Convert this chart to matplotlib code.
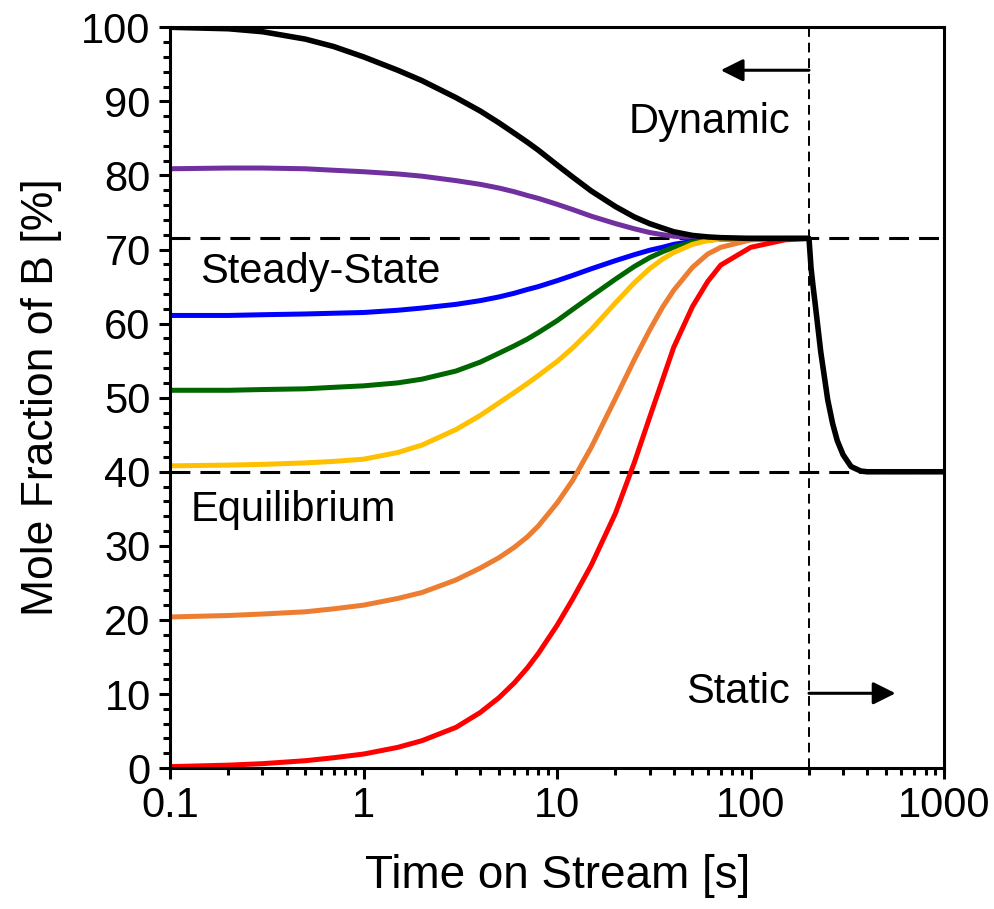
import matplotlib
matplotlib.use("Agg")
import matplotlib.pyplot as plt
from matplotlib.ticker import FixedLocator, FixedFormatter, LogLocator, MultipleLocator, NullFormatter

plt.rcParams["font.family"] = ["Liberation Sans", "DejaVu Sans"]

# Time grid for the dynamic (flow) part, seconds
time = [0.1, 0.2, 0.3, 0.5, 0.7, 1, 1.5, 2, 3, 4, 5, 6, 7, 8, 10, 12, 15, 20, 25, 30, 35, 40, 50, 60, 70, 100, 150, 200]

# Mole fraction of B [%] for each starting composition
b_100 = [100, 99.8, 99.4, 98.4, 97.4, 96.0, 94.2, 92.8, 90.5, 88.7, 87.1, 85.7, 84.5, 83.4, 81.4, 79.8, 77.9, 75.8, 74.4, 73.5, 72.9, 72.4, 71.9, 71.7, 71.6, 71.5, 71.5, 71.5]
b_81 = [80.9, 81.0, 81.0, 80.9, 80.7, 80.5, 80.2, 79.9, 79.3, 78.8, 78.3, 77.8, 77.3, 76.9, 76.1, 75.4, 74.5, 73.5, 72.8, 72.3, 72.0, 71.8, 71.6, 71.5, 71.5, 71.5, 71.5, 71.5]
b_61 = [61.1, 61.1, 61.2, 61.3, 61.4, 61.5, 61.8, 62.1, 62.6, 63.1, 63.6, 64.1, 64.6, 65.0, 65.8, 66.5, 67.4, 68.5, 69.3, 69.9, 70.3, 70.7, 71.1, 71.3, 71.4, 71.5, 71.5, 71.5]
b_51 = [51.0, 51.0, 51.1, 51.2, 51.4, 51.6, 52.0, 52.5, 53.6, 54.8, 56.0, 57.0, 57.9, 58.8, 60.4, 61.9, 63.7, 66.0, 67.7, 68.9, 69.7, 70.3, 71.0, 71.3, 71.4, 71.5, 71.5, 71.5]
b_41 = [40.8, 40.9, 41.0, 41.2, 41.4, 41.7, 42.6, 43.6, 45.7, 47.6, 49.3, 50.7, 51.9, 53.0, 54.9, 56.7, 59.2, 62.8, 65.5, 67.4, 68.7, 69.6, 70.7, 71.2, 71.4, 71.5, 71.5, 71.5]
b_20 = [20.4, 20.6, 20.8, 21.1, 21.5, 22.0, 22.9, 23.7, 25.4, 27.0, 28.4, 29.8, 31.2, 32.7, 35.8, 38.8, 43.3, 49.9, 55.1, 59.1, 62.2, 64.5, 67.6, 69.4, 70.3, 71.3, 71.5, 71.5]
b_0 = [0.2, 0.4, 0.6, 1.0, 1.4, 1.9, 2.8, 3.7, 5.5, 7.5, 9.5, 11.5, 13.5, 15.5, 19.3, 22.8, 27.4, 34.4, 41.2, 47.3, 52.4, 56.8, 62.3, 65.7, 67.9, 70.3, 71.3, 71.5]

# Static part after the flow is stopped at 200 s
time_static = [205, 210, 215, 230, 250, 265, 280, 300, 330, 370, 400, 500, 700, 1000]
b_static = [67.5, 65.0, 62.8, 56.2, 49.7, 46.5, 44.2, 42.3, 40.7, 40.1, 40.0, 40.0, 40.0, 40.0]

steady_state = 71.5
equilibrium = 40.0
t_stop = 200

colors = ["#7030A0", "#0000FF", "#006600", "#FFC000", "#ED7D31", "#FF0000"]
series = [b_81, b_61, b_51, b_41, b_20, b_0]

fig = plt.figure(figsize=(9.95, 9.09), dpi=100)
ax = fig.add_axes([0.171, 0.155, 0.778, 0.815])

ax.axhline(steady_state, color="black", lw=2.2, dashes=(6.5, 3.3), zorder=1)
ax.axhline(equilibrium, color="black", lw=2.2, dashes=(6.5, 3.3), zorder=1)
ax.axvline(t_stop, color="black", lw=1.4, dashes=(5, 3), zorder=1)

for vals, c in zip(series, colors):
    ax.plot(time, vals, color=c, lw=3.6, solid_capstyle="butt", solid_joinstyle="round", zorder=2)

ax.plot(time + time_static, b_100 + b_static, color="black", lw=4.0,
        solid_capstyle="butt", solid_joinstyle="round", zorder=3)

ax.set_xscale("log")
ax.set_xlim(0.1, 1000)
ax.set_ylim(0, 100)

ax.xaxis.set_major_locator(FixedLocator([0.1, 1, 10, 100, 1000]))
ax.xaxis.set_major_formatter(FixedFormatter(["0.1", "1", "10", "100", "1000"]))
ax.xaxis.set_minor_locator(LogLocator(base=10, subs=range(2, 10), numticks=20))
ax.xaxis.set_minor_formatter(NullFormatter())
ax.yaxis.set_major_locator(MultipleLocator(10))
ax.yaxis.set_minor_locator(MultipleLocator(2))

ax.tick_params(which="major", direction="out", length=8, width=2.2, labelsize=30, pad=6)
ax.tick_params(which="minor", direction="out", length=5, width=2.2)
ax.tick_params(axis="x", which="major", pad=5)
for s in ax.spines.values():
    s.set_linewidth(2.2)

ax.set_xlabel("Time on Stream [s]", fontsize=33, labelpad=20)
ax.set_ylabel("Mole Fraction of B [%]", fontsize=32, labelpad=14)

ax.text(0.143, 67.0, "Steady-State", fontsize=30, va="center", ha="left")
ax.text(0.127, 34.8, "Equilibrium", fontsize=30, va="center", ha="left")
ax.text(160, 87.2, "Dynamic", fontsize=30, va="center", ha="right")
ax.text(160, 10.3, "Static", fontsize=30, va="center", ha="right")

ax.annotate("", xy=(70, 94.2), xytext=(t_stop, 94.2),
            arrowprops=dict(arrowstyle="-|>", color="black", lw=2.2, mutation_scale=34, shrinkA=0, shrinkB=0))
ax.annotate("", xy=(560, 10.1), xytext=(t_stop, 10.1),
            arrowprops=dict(arrowstyle="-|>", color="black", lw=2.2, mutation_scale=34, shrinkA=0, shrinkB=0))

fig.savefig("out.png", dpi=100)
